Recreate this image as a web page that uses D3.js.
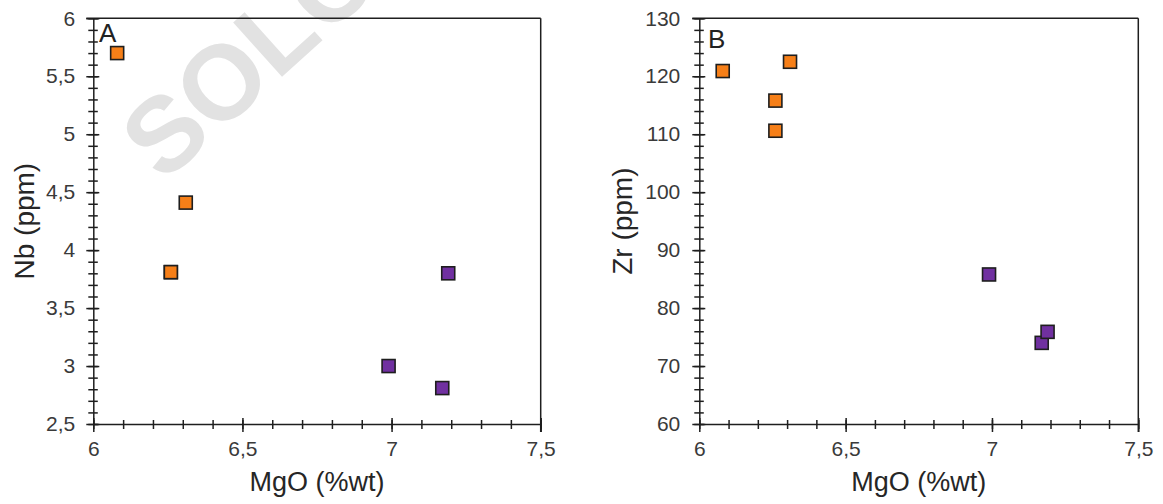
<!DOCTYPE html>
<html>
<head>
<meta charset="utf-8">
<script src="https://cdn.jsdelivr.net/npm/d3@7/dist/d3.min.js"></script>
<style>
  html, body { margin: 0; padding: 0; background: #fff; }
  svg { display: block; font-family: "Liberation Sans", Arial, sans-serif; }
</style>
</head>
<body>
<svg id="chart" width="1163" height="504"></svg>
<script>
// MgO (%wt) shared by both panels
const mgoDomain = [6, 7.5];
const mgoTicks = [6, 6.5, 7, 7.5];

// Orange group
const orangeMgO = [6.08, 6.26, 6.26, 6.31];
const orangeNb  = [5.70, 3.81, 3.81, 4.41];
const orangeZr  = [120.9, 115.8, 110.6, 122.5];

// Purple group
const purpleMgO = [6.99, 7.17, 7.19];
const purpleNb  = [3.00, 2.81, 3.80];
const purpleZr  = [85.8, 74.0, 75.9];

// Y-axis ticks
const nbDomain = [2.5, 6];
const nbTicks = [2.5, 3, 3.5, 4, 4.5, 5, 5.5, 6];
const zrDomain = [60, 130];
const zrTicks = [60, 70, 80, 90, 100, 110, 120, 130];

const ORANGE = "#f67f18";
const PURPLE = "#7030a0";
const INK = "#1e1e1e";

const svg = d3.select("#chart");
const fmt = v => String(v).replace(".", ",");

// faint watermark behind panel A
svg.append("text")
  .attr("transform", "translate(163,184) rotate(-42)")
  .attr("font-size", 106)
  .attr("font-weight", "bold")
  .attr("fill", "#e2e2e2")
  .text("SOLO");

function drawPanel(cfg) {
  const x = d3.scaleLinear().domain(mgoDomain).range([cfg.left, cfg.right]);
  const y = d3.scaleLinear().domain(cfg.yDomain).range([cfg.bottom, cfg.top]);
  const g = svg.append("g");

  // frame: top and right edges
  g.append("line").attr("x1", cfg.left - 7).attr("x2", cfg.right)
    .attr("y1", cfg.top).attr("y2", cfg.top)
    .attr("stroke", INK).attr("stroke-width", 1.5);
  g.append("line").attr("x1", cfg.right).attr("x2", cfg.right)
    .attr("y1", cfg.top).attr("y2", cfg.bottom + 8)
    .attr("stroke", INK).attr("stroke-width", 1.5);

  // minor ticks (cross the axis)
  const xMinor = d3.ticks(mgoDomain[0], mgoDomain[1], 15);
  const yMinor = d3.ticks(cfg.yDomain[0], cfg.yDomain[1], 35);

  const gxMinor = g.append("g").attr("transform", `translate(0,${cfg.bottom})`)
    .call(d3.axisBottom(x).tickValues(xMinor).tickSize(5).tickFormat(""));
  gxMinor.select(".domain").remove();
  gxMinor.selectAll(".tick line").attr("y1", -4).attr("stroke", INK).attr("stroke-width", 1.5);

  const gyMinor = g.append("g").attr("transform", `translate(${cfg.left},0)`)
    .call(d3.axisLeft(y).tickValues(yMinor).tickSize(5).tickFormat(""));
  gyMinor.select(".domain").remove();
  gyMinor.selectAll(".tick line").attr("x1", 4.5).attr("stroke", INK).attr("stroke-width", 1.5);

  // major axes
  const gx = g.append("g").attr("transform", `translate(0,${cfg.bottom})`)
    .call(d3.axisBottom(x).tickValues(mgoTicks).tickFormat(fmt)
      .tickSize(8).tickSizeOuter(0).tickPadding(9));
  gx.select(".domain").attr("stroke", INK).attr("stroke-width", 1.5);
  gx.selectAll(".tick line").attr("y1", -6).attr("stroke", INK).attr("stroke-width", 1.5);
  gx.selectAll(".tick text").attr("font-size", 21).attr("fill", "#3a3a3a")
    .attr("font-family", "Liberation Sans, Arial, sans-serif");

  const gy = g.append("g").attr("transform", `translate(${cfg.left},0)`)
    .call(d3.axisLeft(y).tickValues(cfg.yTicks).tickFormat(fmt)
      .tickSize(7).tickSizeOuter(0).tickPadding(cfg.yPad));
  gy.select(".domain").attr("stroke", INK).attr("stroke-width", 1.5);
  gy.selectAll(".tick line").attr("x1", 6).attr("stroke", INK).attr("stroke-width", 1.5);
  gy.selectAll(".tick text").attr("font-size", 21).attr("fill", "#3a3a3a")
    .attr("font-family", "Liberation Sans, Arial, sans-serif");

  // axis titles
  g.append("text")
    .attr("x", (cfg.left + cfg.right) / 2).attr("y", 491)
    .attr("text-anchor", "middle").attr("font-size", 27).attr("fill", "#262626")
    .text("MgO (%wt)");
  g.append("text")
    .attr("transform", `translate(${cfg.yTitleX},${(cfg.top + cfg.bottom) / 2}) rotate(-90)`)
    .attr("text-anchor", "middle").attr("font-size", 28).attr("fill", "#262626")
    .text(cfg.yTitle);

  // panel letter
  g.append("text")
    .attr("x", cfg.letterX).attr("y", cfg.letterY)
    .attr("font-size", 26).attr("fill", "#222")
    .text(cfg.letter);

  // markers
  const drawGroup = (xs, ys, color) => {
    g.append("g").selectAll("rect")
      .data(d3.zip(xs, ys))
      .join("rect")
      .attr("x", d => x(d[0]) - 6.5)
      .attr("y", d => y(d[1]) - 6.5)
      .attr("width", 13).attr("height", 13)
      .attr("fill", color)
      .attr("stroke", INK).attr("stroke-width", 1.6);
  };
  drawGroup(cfg.orangeY.xs, cfg.orangeY.ys, ORANGE);
  drawGroup(cfg.purpleY.xs, cfg.purpleY.ys, PURPLE);
}

drawPanel({
  left: 93.3, right: 540.7, top: 18.3, bottom: 424,
  yDomain: nbDomain, yTicks: nbTicks, yPad: 11,
  yTitle: "Nb (ppm)", yTitleX: 34,
  letter: "A", letterX: 99, letterY: 42,
  orangeY: { xs: orangeMgO, ys: orangeNb },
  purpleY: { xs: purpleMgO, ys: purpleNb }
});

drawPanel({
  left: 699.3, right: 1138.3, top: 18.3, bottom: 424,
  yDomain: zrDomain, yTicks: zrTicks, yPad: 12,
  yTitle: "Zr (ppm)", yTitleX: 632,
  letter: "B", letterX: 708, letterY: 48,
  orangeY: { xs: orangeMgO, ys: orangeZr },
  purpleY: { xs: purpleMgO, ys: purpleZr }
});
</script>
</body>
</html>
